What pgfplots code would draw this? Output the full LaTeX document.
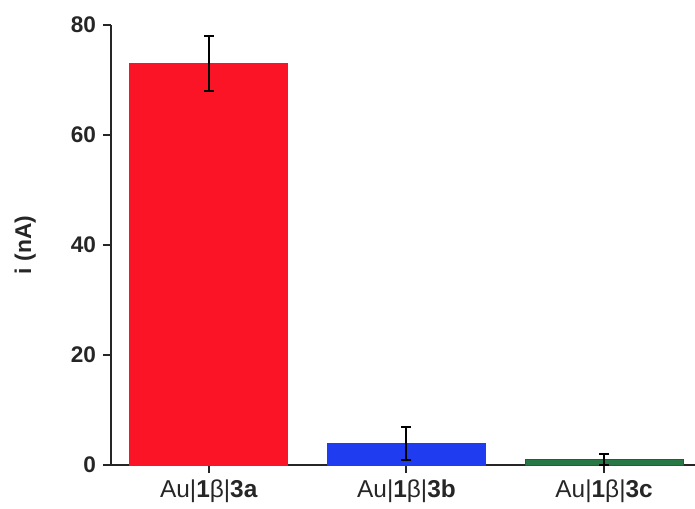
\documentclass[border=0pt]{standalone}
\usepackage{fontspec}
\setmainfont{Liberation Sans}
\usepackage{pgfplots}
\pgfplotsset{compat=1.18}
\definecolor{barred}{RGB}{250,20,38}
\definecolor{barblue}{RGB}{32,60,240}
\definecolor{bargreen}{RGB}{40,120,70}
\begin{document}
\begin{tikzpicture}
\path[use as bounding box] (-55.5pt,-21.5pt) rectangle (292pt,232.5pt);
\begin{axis}[
  at={(0,0)}, anchor=south west,
  scale only axis, width=292pt, height=220pt,
  xmin=-0.495, xmax=2.46, ymin=0, ymax=80,
  axis lines*=left,
  axis line style={line width=1pt, color=black!85},
  xtick={0,1,2},
  xticklabels={Au|\textbf{1}β|\textbf{3a}, Au|\textbf{1}β|\textbf{3b}, Au|\textbf{1}β|\textbf{3c}},
  ytick={0,20,40,60,80},
  tick align=outside, major tick length=4pt,
  tick style={line width=1pt, color=black!85},
  /pgf/number format/assume math mode=true,
  yticklabel style={font=\fontsize{11.3}{13}\selectfont\bfseries, color=black!85},
  xticklabel style={font=\fontsize{12.2}{14}\selectfont, color=black!85, yshift=0pt},
  ylabel={\textbf{i (nA)}},
  every axis y label/.style={at={(axis description cs:-0.147,0.5)}, rotate=90, anchor=center,
    font=\fontsize{11.4}{13}\selectfont, color=black!85},
  ybar, bar width=0.8, bar shift=0pt,
  clip=false,
]
\addplot[fill=barred, draw=barred, error bars/.cd, y dir=both, y explicit,
  error bar style={line width=1pt, black}, error mark options={rotate=90, line width=1pt, black, mark size=2.5pt}]
  table[x=x, y=y, y error plus=ep, y error minus=em] {
  x y ep em
  0 73 5 5
};
\addplot[fill=barblue, draw=barblue, error bars/.cd, y dir=both, y explicit,
  error bar style={line width=1pt, black}, error mark options={rotate=90, line width=1pt, black, mark size=2.5pt}]
  table[x=x, y=y, y error plus=ep, y error minus=em] {
  x y ep em
  1 4 3 3
};
\addplot[fill=bargreen, draw=bargreen!80!black, error bars/.cd, y dir=both, y explicit,
  error bar style={line width=1pt, black}, error mark options={rotate=90, line width=1pt, black, mark size=2.5pt}]
  table[x=x, y=y, y error plus=ep, y error minus=em] {
  x y ep em
  2 1 1 1
};
\end{axis}
\end{tikzpicture}
\end{document}
